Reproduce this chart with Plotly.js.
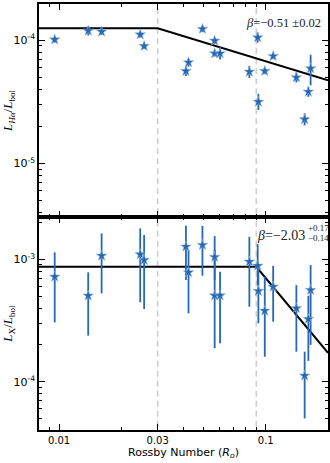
<!DOCTYPE html>
<html>
<head>
<meta charset="utf-8">
<script src="https://cdn.plot.ly/plotly-3.0.1.min.js"></script>
<style>html,body{margin:0;padding:0;background:#fff;}#chart{width:330px;height:463px;}</style>
</head>
<body>
<div id="chart"></div>
<script>
// Rossby numbers of the sample (shared by both panels)
const rossby = [0.00953, 0.01384, 0.01607, 0.0247, 0.0258, 0.0411, 0.0423, 0.0494, 0.0566, 0.0566,
                0.0601, 0.0833, 0.0914, 0.0921, 0.0989, 0.1086, 0.1406, 0.1607, 0.1648, 0.1542];
// H-alpha activity L_Ha/L_bol with upper / lower bounds
const hAlpha   = [1.01e-4, 1.19e-4, 1.17e-4, 1.11e-4, 8.94e-5, 5.61e-5, 6.59e-5, 1.23e-4, 9.88e-5, 7.8e-5,
                  7.8e-5, 5.53e-5, 1.05e-4, 3.16e-5, 5.61e-5, 7.41e-5, 4.98e-5, 3.81e-5, 5.89e-5, 2.28e-5];
const hAlphaHi = [1.07e-4, 1.29e-4, 1.24e-4, 1.17e-4, 9.45e-5, 6.16e-5, 7.1e-5, 1.30e-4, 1.045e-4, 8.25e-5,
                  8.73e-5, 6.19e-5, 1.15e-4, 3.67e-5, 5.94e-5, 7.84e-5, 5.47e-5, 4.18e-5, 7.6e-5, 2.55e-5];
const hAlphaLo = [9.55e-5, 1.09e-4, 1.10e-4, 1.05e-4, 8.45e-5, 5.11e-5, 6.1e-5, 1.16e-4, 9.34e-5, 7.37e-5,
                  6.97e-5, 4.94e-5, 9.56e-5, 2.72e-5, 5.3e-5, 7.0e-5, 4.54e-5, 3.47e-5, 4.3e-5, 2.04e-5];
// X-ray activity L_X/L_bol with upper / lower bounds
const xRay   = [7.21e-4, 5.05e-4, 1.07e-3, 1.10e-3, 9.87e-4, 1.27e-3, 7.83e-4, 1.31e-3, 1.045e-3, 5.06e-4,
                5.06e-4, 9.56e-4, 8.86e-4, 5.51e-4, 3.8e-4, 5.97e-4, 3.98e-4, 3.25e-4, 5.61e-4, 1.12e-4];
const xRayHi = [1.14e-3, 7.83e-4, 1.63e-3, 1.79e-3, 1.58e-3, 1.88e-3, 1.19e-3, 1.88e-3, 1.55e-3, 1.19e-3,
                7.92e-4, 1.53e-3, 1.33e-3, 8.49e-4, 7.21e-4, 8.87e-4, 6.16e-4, 5.04e-4, 8.98e-4, 1.76e-4];
const xRayLo = [3.05e-4, 2.38e-4, 5.27e-4, 4.46e-4, 3.93e-4, 6.78e-4, 3.62e-4, 7.35e-4, 6.78e-4, 1.88e-4,
                2.06e-4, 4.1e-4, 6.17e-4, 3.0e-4, 1.6e-4, 3.09e-4, 1.76e-4, 1.48e-4, 2.0e-4, 5.01e-5];
// Broken power-law fits: [saturation level, break Rossby number, slope]
const fitHAlpha = [1.245e-4, 0.03, -0.51];
const fitXRay   = [8.7e-4, 0.09, -2.03];
// vertical reference lines (Rossby numbers)
const breakLines = [0.03, 0.09];
// axis limits
const xLimits = [0.008, 0.2];
const hAlphaLimits = [3.69e-6, 1.96e-4];
const xRayLimits = [4.03e-5, 2.22e-3];
// tick values
const xMajor = [0.01, 0.03, 0.1];
const xMajorText = ['0.01', '0.03', '0.1'];
const xMinor = [0.008, 0.009, 0.02, 0.04, 0.05, 0.06, 0.07, 0.08, 0.09, 0.2];
const hAlphaMajor = [1e-5, 1e-4];
const hAlphaMajorText = ['10<sup>-5</sup>', '10<sup>-4</sup>'];
const hAlphaMinor = [4e-6, 5e-6, 6e-6, 7e-6, 8e-6, 9e-6, 2e-5, 3e-5, 4e-5, 5e-5, 6e-5, 7e-5, 8e-5, 9e-5];
const xRayMajor = [1e-4, 1e-3];
const xRayMajorText = ['10<sup>-4</sup>', '10<sup>-3</sup>'];
const xRayMinor = [5e-5, 6e-5, 7e-5, 8e-5, 9e-5, 2e-4, 3e-4, 4e-4, 5e-4, 6e-4, 7e-4, 8e-4, 9e-4, 2e-3];

const blue = 'rgb(38,104,178)';

function fitLine(p) {
  const [sat, brk, slope] = p;
  const xs = [xLimits[0], brk, xLimits[1]];
  const ys = xs.map(x => x <= brk ? sat : sat * Math.pow(x / brk, slope));
  return {xs, ys};
}
const f1 = fitLine(fitHAlpha), f2 = fitLine(fitXRay);

const traces = [];
breakLines.forEach(b => {
  traces.push({x: [b, b], y: [hAlphaLimits[0] / 2, hAlphaLimits[1] * 2], xaxis: 'x', yaxis: 'y', mode: 'lines',
    line: {color: '#cfcfcf', width: 1.6, dash: '6px,4px'}, hoverinfo: 'skip', showlegend: false});
  traces.push({x: [b, b], y: [xRayLimits[0] / 2, xRayLimits[1] * 2], xaxis: 'x2', yaxis: 'y2', mode: 'lines',
    line: {color: '#cfcfcf', width: 1.6, dash: '6px,4px'}, hoverinfo: 'skip', showlegend: false});
});
traces.push({x: f1.xs, y: f1.ys, xaxis: 'x', yaxis: 'y', mode: 'lines', line: {color: '#000', width: 2}, showlegend: false});
traces.push({x: f2.xs, y: f2.ys, xaxis: 'x2', yaxis: 'y2', mode: 'lines', line: {color: '#000', width: 2}, showlegend: false});

const marker = {symbol: 'star', size: 8, color: blue, line: {color: 'rgba(150,185,225,0.9)', width: 0.6}};
traces.push({x: rossby, y: hAlpha, xaxis: 'x', yaxis: 'y', mode: 'markers', marker: marker, showlegend: false,
  error_y: {type: 'data', symmetric: false, array: hAlphaHi.map((h, i) => h - hAlpha[i]),
            arrayminus: hAlphaLo.map((l, i) => hAlpha[i] - l), color: blue, thickness: 1.8, width: 0}});
traces.push({x: rossby, y: xRay, xaxis: 'x2', yaxis: 'y2', mode: 'markers', marker: marker, showlegend: false,
  error_y: {type: 'data', symmetric: false, array: xRayHi.map((h, i) => h - xRay[i]),
            arrayminus: xRayLo.map((l, i) => xRay[i] - l), color: blue, thickness: 1.8, width: 0}});

const tickFont = {family: 'DejaVu Sans', size: 10, color: '#000'};
const yTickFont = {family: 'DejaVu Sans', size: 11, color: '#000'};
const common = {type: 'log', showline: true, linecolor: '#000', linewidth: 1.6, mirror: 'ticks',
  ticks: 'inside', ticklen: 6, tickwidth: 1, tickcolor: '#000', showgrid: false, zeroline: false,
  tickfont: tickFont, tickmode: 'array'};
const lg = v => v.map(Math.log10);

const layout = {
  width: 330, height: 463,
  margin: {l: 39, r: 2, t: 4, b: 33},
  paper_bgcolor: '#fff', plot_bgcolor: '#fff',
  showlegend: false,
  xaxis: Object.assign({}, common, {range: lg(xLimits), anchor: 'y', tickvals: xMajor, ticktext: xMajorText,
    showticklabels: false, minor: {tickvals: xMinor, ticks: 'inside', ticklen: 3, tickcolor: '#000'}}),
  yaxis: Object.assign({}, common, {range: lg(hAlphaLimits), domain: [0.5, 1], anchor: 'x',
    tickvals: hAlphaMajor, ticktext: hAlphaMajorText, tickfont: yTickFont,
    minor: {tickvals: hAlphaMinor, ticks: 'inside', ticklen: 3, tickcolor: '#000'},
    title: {text: '<i>L</i><sub><i>Hα</i></sub>/<i>L</i><sub>bol</sub>', font: {family: 'Liberation Serif', size: 13, color: '#000'}, standoff: 4}}),
  xaxis2: Object.assign({}, common, {range: lg(xLimits), anchor: 'y2', tickvals: xMajor, ticktext: xMajorText,
    minor: {tickvals: xMinor, ticks: 'inside', ticklen: 3, tickcolor: '#000'},
    title: {text: 'Rossby Number (<i>R</i><sub><i>o</i></sub>)', font: {family: 'DejaVu Sans', size: 11, color: '#000'}, standoff: 3}}),
  yaxis2: Object.assign({}, common, {range: lg(xRayLimits), domain: [0, 0.5], anchor: 'x2',
    tickvals: xRayMajor, ticktext: xRayMajorText, tickfont: yTickFont,
    minor: {tickvals: xRayMinor, ticks: 'inside', ticklen: 3, tickcolor: '#000'},
    title: {text: '<i>L</i><sub>X</sub>/<i>L</i><sub>bol</sub>', font: {family: 'Liberation Serif', size: 13, color: '#000'}, standoff: 4}}),
  annotations: [
    {xref: 'paper', yref: 'paper', x: 0.984, y: 0.956, xanchor: 'right', yanchor: 'middle', showarrow: false,
     text: '<i>β</i>=−0.51 ±0.02', font: {family: 'Liberation Serif', size: 12.5, color: '#222'}},
    {xref: 'paper', yref: 'paper', x: 0.927, y: 0.457, xanchor: 'right', yanchor: 'middle', showarrow: false,
     text: '<i>β</i>=−2.03', font: {family: 'Liberation Serif', size: 14, color: '#222'}},
    {xref: 'paper', yref: 'paper', x: 0.925, y: 0.4735, xanchor: 'left', yanchor: 'middle', showarrow: false,
     text: '+0.17', font: {family: 'Liberation Serif', size: 9, color: '#222'}},
    {xref: 'paper', yref: 'paper', x: 0.925, y: 0.451, xanchor: 'left', yanchor: 'middle', showarrow: false,
     text: '−0.14', font: {family: 'Liberation Serif', size: 9, color: '#222'}}
  ]
};

Plotly.newPlot('chart', traces, layout, {displayModeBar: false, staticPlot: true});
</script>
</body>
</html>
